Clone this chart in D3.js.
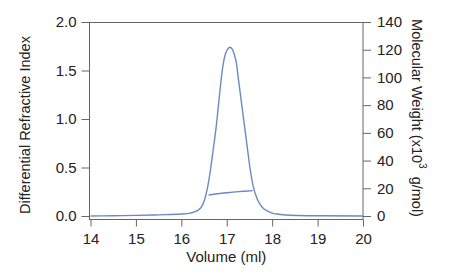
<!DOCTYPE html>
<html>
<head>
<meta charset="utf-8">
<script src="https://cdn.jsdelivr.net/npm/d3@7"></script>
<style>
  body { margin: 0; background: #fff; }
  text { font-family: "Liberation Sans", Arial, sans-serif; fill: #222; }
</style>
</head>
<body>
<div id="chart"></div>
<script>
// refractive index trace (volume ml, dRI)
const riVolume = [14.0, 14.5, 15.0, 15.5, 16.0, 16.2, 16.3, 16.37, 16.45, 16.51, 16.58, 16.64, 16.7, 16.76, 16.83, 16.88, 16.92, 16.97, 17.02, 17.07, 17.12, 17.17, 17.21, 17.26, 17.31, 17.36, 17.41, 17.46, 17.51, 17.58, 17.68, 17.78, 17.9, 18.0, 18.1, 18.3, 18.6, 19.0, 20.0];
const riValue = [0.0, 0.003, 0.006, 0.012, 0.02, 0.03, 0.045, 0.06, 0.1, 0.165, 0.3, 0.47, 0.68, 0.89, 1.2, 1.42, 1.56, 1.67, 1.72, 1.74, 1.72, 1.66, 1.58, 1.4, 1.22, 1.04, 0.86, 0.68, 0.5, 0.31, 0.165, 0.09, 0.05, 0.03, 0.02, 0.01, 0.005, 0.002, 0.0];
// molecular weight across peak (x10^3 g/mol)
const mwVolume = [16.6, 16.8, 17.0, 17.2, 17.4, 17.57];
const mwValue = [15.2, 16.1, 16.8, 17.4, 17.9, 18.3];

const xTicks = [14, 15, 16, 17, 18, 19, 20];
const riTicks = [0, 0.5, 1.0, 1.5, 2.0];
const mwTicks = [0, 20, 40, 60, 80, 100, 120, 140];

const W = 450, H = 276;
const pLeft = 89.5, pRight = 363, pTop = 22, pBottom = 216, frameBottom = 219.5;
const axisColor = "#666";
const lineColor = "#6b8ac4";

const svg = d3.select("#chart").append("svg").attr("width", W).attr("height", H);

const x = d3.scaleLinear().domain([14, 20]).range([pLeft + 1, pRight]);
const y = d3.scaleLinear().domain([0, 2]).range([pBottom, pTop]);
const y2 = d3.scaleLinear().domain([0, 140]).range([pBottom, pTop]);

// frame
svg.append("rect")
  .attr("x", pLeft).attr("y", pTop + 0.5)
  .attr("width", pRight - pLeft).attr("height", frameBottom - pTop - 0.5)
  .attr("fill", "none").attr("stroke", axisColor);

const gx = svg.append("g").attr("transform", `translate(0,${frameBottom})`)
  .call(d3.axisBottom(x).tickValues(xTicks).tickFormat(d3.format("d")).tickSize(7).tickPadding(7));
const gy = svg.append("g").attr("transform", `translate(${pLeft},0)`)
  .call(d3.axisLeft(y).tickValues(riTicks).tickFormat(d3.format(".1f")).tickSize(8).tickPadding(5));
const gy2 = svg.append("g").attr("transform", `translate(${pRight},0)`)
  .call(d3.axisRight(y2).tickValues(mwTicks).tickFormat(d3.format("d")).tickSize(8).tickPadding(6));

[gx, gy, gy2].forEach(g => {
  g.select(".domain").remove();
  g.selectAll(".tick line").attr("stroke", axisColor);
  g.selectAll(".tick text").style("font-size", "15px").style("fill", "#222")
    .style("font-family", '"Liberation Sans", Arial, sans-serif');
});

const line = d3.line().curve(d3.curveMonotoneX);

svg.append("path")
  .attr("d", line(riVolume.map((v, i) => [x(v), y(riValue[i])])))
  .attr("fill", "none").attr("stroke", lineColor).attr("stroke-width", 1.4);

svg.append("path")
  .attr("d", line(mwVolume.map((v, i) => [x(v), y2(mwValue[i])])))
  .attr("fill", "none").attr("stroke", lineColor).attr("stroke-width", 1.4);

// axis titles
svg.append("text")
  .attr("x", (pLeft + pRight) / 2).attr("y", 262)
  .attr("text-anchor", "middle").style("font-size", "15px")
  .text("Volume (ml)");

svg.append("text")
  .attr("transform", `translate(30,125) rotate(-90)`)
  .attr("text-anchor", "middle").style("font-size", "14.5px")
  .text("Differential Refractive Index");

const t2 = svg.append("text")
  .attr("transform", `translate(412,118) rotate(90)`)
  .attr("text-anchor", "middle").style("font-size", "14.5px");
t2.append("tspan").text("Molecular Weight (x10");
t2.append("tspan").attr("dy", -7).style("font-size", "10px").text("3");
t2.append("tspan").attr("dy", 7).text("\u00a0 g/mol)");
</script>
</body>
</html>
